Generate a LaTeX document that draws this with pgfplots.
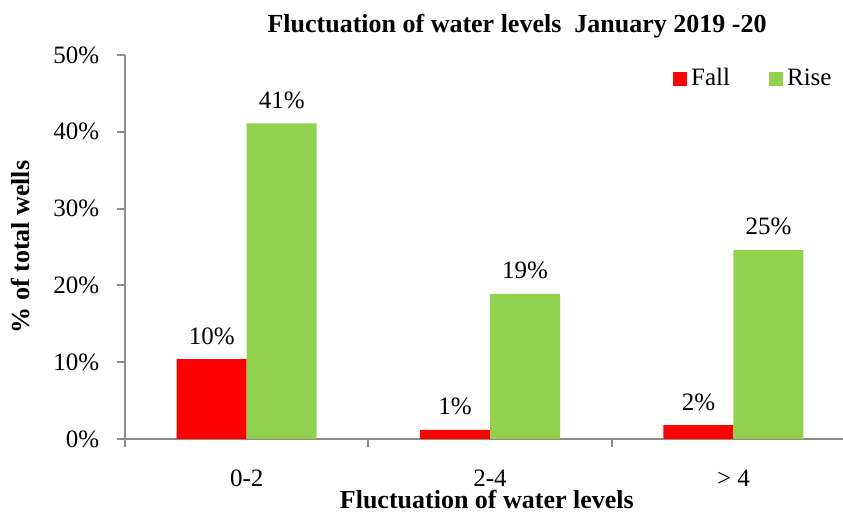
\documentclass[border=0pt]{standalone}
\usepackage{pgfplots}
\pgfplotsset{compat=1.18}
\usepackage{fontspec}
\setmainfont{Liberation Serif}
\definecolor{fallred}{HTML}{FF0000}
\definecolor{risegreen}{HTML}{92D050}
\definecolor{axgray}{HTML}{8C8C8C}
\begin{document}
\fontsize{12.5}{15}\selectfont
\begin{tikzpicture}
\begin{axis}[name=ax, scale only axis, width=359pt, height=192pt,
 ybar=0pt, bar width=35pt,
 xmin=-0.5, xmax=2.45, ymin=0, ymax=50,
 axis lines*=left,
 axis line style={axgray, line width=1pt},
 tick style={axgray, line width=1pt},
 tick align=outside,
 major tick length=4pt, minor tick length=4pt,
 ytick={0,10,...,50},
 yticklabel={\pgfmathprintnumber{\tick}\%},
 xtick={0,1,2}, xticklabels={0-2,2-4,> 4},
 minor xtick={-0.5,0.5,1.5},
 major x tick style={draw=none},
 /pgf/number format/assume math mode=true,
 ticklabel style={font=\fontsize{12.5}{15}\selectfont, text=black},
 xticklabel style={yshift=-7pt},
 yticklabel style={xshift=-4.5pt},
 nodes near coords={\pgfmathprintnumber[fixed,precision=0]{\pgfplotspointmeta}\%},
 every node near coord/.append style={font=\fontsize{12.5}{15}\selectfont, text=black, yshift=3pt},
 title={Fluctuation of water levels\ \ January 2019 -20},
 title style={font=\bfseries\fontsize{13}{15}\selectfont, at={(0.546,1)}, anchor=center, yshift=8.5pt},
 xlabel={Fluctuation of water levels},
 xlabel style={font=\bfseries\fontsize{13}{15}\selectfont, at={([yshift=-30.5pt]axis description cs:0.504,0)}, anchor=center},
 ylabel={\% of total wells},
 ylabel style={font=\bfseries\fontsize{13}{15}\selectfont, at={([xshift=-43pt]axis description cs:0,0.5)}, anchor=south},
 legend columns=2,
 legend style={draw=none, fill=none, at={(0.763,0.937)}, anchor=west, inner sep=0pt, font=\fontsize{12.5}{15}\selectfont,
   /tikz/every even column/.append style={column sep=17.5pt}},
 legend image code/.code={\fill[#1] (0pt,-3.5pt) rectangle (7pt,3.5pt);},
]
\addplot[fill=fallred, draw=none] coordinates {(0,10.4) (1,1.2) (2,1.8)};
\addplot[fill=risegreen, draw=none] coordinates {(0,41.1) (1,18.9) (2,24.6)};
\legend{Fall,Rise}
\end{axis}
\pgfresetboundingbox
\path ([xshift=-62.5pt,yshift=-38pt]ax.south west) rectangle ([yshift=27.5pt]ax.north east);
\end{tikzpicture}
\end{document}
